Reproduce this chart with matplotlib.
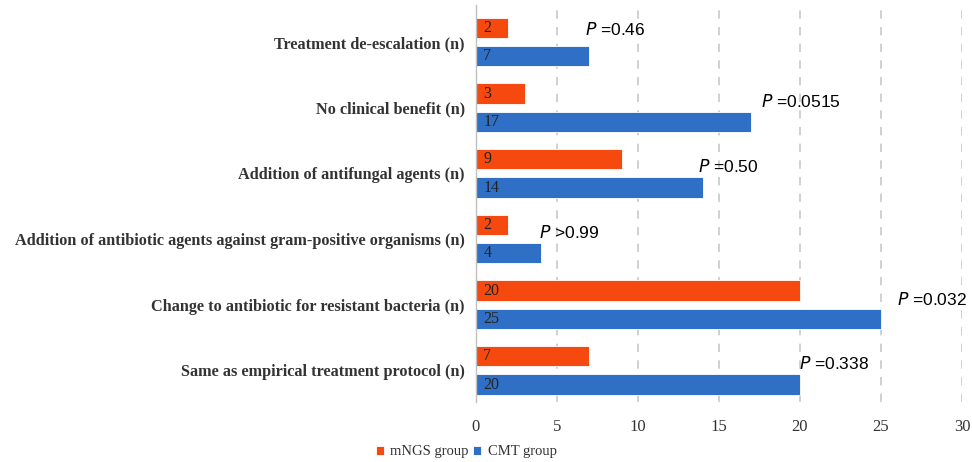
import matplotlib.pyplot as plt
import numpy as np

# datos de la figura
categorias = [
    "Treatment de-escalation (n)",
    "No clinical benefit (n)",
    "Addition of antifungal agents (n)",
    "Addition of antibiotic agents against gram-positive organisms (n)",
    "Change to antibiotic for resistant bacteria (n)",
    "Same as empirical treatment protocol (n)",
]
mngs = [2, 3, 9, 2, 20, 7]
cmt = [7, 17, 14, 4, 25, 20]
p_valores = ["=0.46", "=0.0515", "=0.50", ">0.99", "=0.032", "=0.338"]
p_x = [6.7, 17.6, 13.7, 3.9, 26.0, 19.95]

naranja = "#F5490F"
azul = "#2F70C6"

fig = plt.figure(figsize=(9.72, 4.62), dpi=100)
ax = fig.add_axes([0.4897, 0.13, 0.5, 0.86])

y = np.arange(len(categorias))
alto = 0.31
off = 0.215

ax.barh(y - off, mngs, height=alto, color=naranja, edgecolor="white", linewidth=0.6, label="mNGS group")
ax.barh(y + off, cmt, height=alto, color=azul, edgecolor="white", linewidth=0.6, label="CMT group")

# numeros dentro de las barras
for i in range(len(categorias)):
    ax.text(0.45, y[i] - off, str(mngs[i]), va="center", ha="left",
            fontsize=11.5, family="Liberation Serif", color="#222222")
    ax.text(0.45, y[i] + off, str(cmt[i]), va="center", ha="left",
            fontsize=11.5, family="Liberation Serif", color="#222222")

# valores P
p_dy = [-0.19, -0.1, -0.1, -0.1, -0.08, -0.11]
for i in range(len(categorias)):
    ax.text(p_x[i], y[i] + p_dy[i], r"$\it{P}$ " + p_valores[i], va="center", ha="left",
            fontsize=12.5, family="Liberation Sans", color="black")

ax.set_yticks(y)
ax.set_yticklabels(categorias, family="Liberation Serif", fontweight="bold",
                   fontsize=11.7, color="#333333")
ax.set_ylim(5.48, -0.57)
ax.set_xlim(0, 30)
ax.set_xticks(range(0, 31, 5))
ax.set_xticklabels([str(v) for v in range(0, 31, 5)], family="Liberation Serif",
                   fontsize=12, color="#333333")

ax.tick_params(axis="y", length=0, pad=8)
ax.tick_params(axis="x", length=0, pad=12)

for s in ["top", "right", "bottom"]:
    ax.spines[s].set_visible(False)
ax.spines["left"].set_color("#BFBFBF")
ax.spines["left"].set_linewidth(1)

ax.grid(axis="x", color="#C8C8C8", linestyle=(0, (5, 5)), linewidth=1.2)
ax.set_axisbelow(True)

leg = fig.legend(loc="center left", bbox_to_anchor=(0.373, 0.022), ncol=2, frameon=False,
                 prop={"family": "Liberation Serif", "size": 10.5},
                 handlelength=0.55, handleheight=0.55, handletextpad=0.45, columnspacing=0.3)
for t in leg.get_texts():
    t.set_color("#333333")

fig.savefig("out.png", dpi=100)
